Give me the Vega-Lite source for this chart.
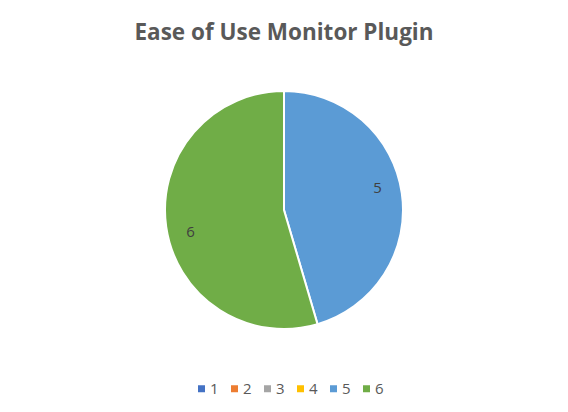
{
  "$schema": "https://vega.github.io/schema/vega-lite/v6.json",
  "width": 568,
  "height": 300,
  "autosize": "none",
  "padding": {"top": 60, "left": 0, "right": 0, "bottom": 52},
  "background": "white",
  "title": {
    "text": "Ease of Use Monitor Plugin",
    "font": "Open Sans",
    "fontSize": 22.5,
    "fontWeight": "bold",
    "color": "#595959",
    "anchor": "middle",
    "offset": 16
  },
  "config": {"view": {"stroke": null}, "font": "Open Sans"},
  "data": {
    "values": [
      {"category": "1", "count": 0},
      {"category": "2", "count": 0},
      {"category": "3", "count": 0},
      {"category": "4", "count": 0},
      {"category": "5", "count": 5},
      {"category": "6", "count": 6}
    ]
  },
  "encoding": {
    "theta": {"field": "count", "type": "quantitative", "stack": true},
    "order": {"field": "category", "type": "ordinal", "sort": "ascending"}
  },
  "layer": [
    {
      "mark": {"type": "arc", "outerRadius": 119, "stroke": "white", "strokeWidth": 2},
      "encoding": {
        "color": {
          "field": "category",
          "type": "nominal",
          "scale": {
            "domain": ["1", "2", "3", "4", "5", "6"],
            "range": ["#4472C4", "#ED7D31", "#A5A5A5", "#FFC000", "#5B9BD5", "#70AD47"]
          },
          "legend": {
            "title": null,
            "orient": "none",
            "direction": "horizontal",
            "legendX": 194,
            "legendY": 321,
            "padding": 0,
            "symbolType": "square",
            "symbolSize": 49,
            "symbolStrokeWidth": 0,
            "labelFontSize": 15,
            "labelColor": "#595959",
            "labelOffset": 1,
            "columnPadding": 8
          }
        }
      }
    },
    {
      "transform": [{"filter": "datum.count > 0"}],
      "mark": {"type": "text", "radius": 96, "thetaOffset": -0.09, "fontSize": 15, "color": "#404040"},
      "encoding": {
        "text": {"field": "count", "type": "quantitative"}
      }
    }
  ]
}
